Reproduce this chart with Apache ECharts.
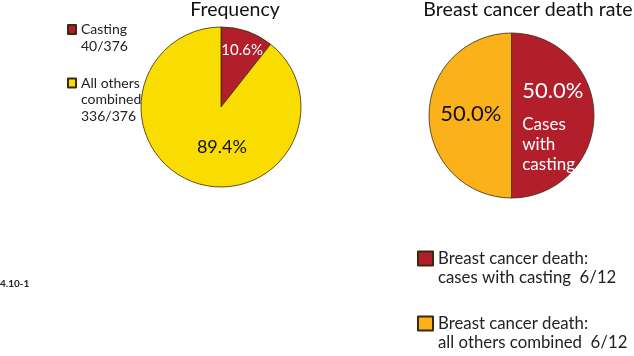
<!DOCTYPE html>
<html><head><meta charset="utf-8">
<script src="https://cdn.jsdelivr.net/npm/echarts@6/dist/echarts.min.js"></script>
<style>html,body{margin:0;padding:0;background:#fff}#c{width:634px;height:356px}</style>
</head><body><div id="c"></div>
<script>
const FONT = 'Lato';
// Frequency pie
const freqNames = ['Casting', 'All others combined'];
const freqCounts = [40, 336];
const freqTotal = 376;
const freqColors = ['#b21f2b', '#f9dc00'];
// Breast cancer death rate pie
const deathNames = ['Breast cancer death: cases with casting', 'Breast cancer death: all others combined'];
const deathCounts = [6, 6];
const deathTotal = 12;
const deathColors = ['#b21f2b', '#fbb119'];
const titles = ['Frequency', 'Breast cancer death rate'];
const figLabel = '4.10-1';

const pct = v => (v * 100).toFixed(1) + '%';

const chart = echarts.init(document.getElementById('c'), null, {renderer: 'canvas'});
const legendBase = {orient: 'vertical', padding: 0, icon: 'rect', selectedMode: false};
const smallRich = {t: {fontFamily: FONT, fontSize: 14, lineHeight: 16.5, color: '#222'}};
const bigRich = {t: {fontFamily: FONT, fontSize: 16.8, lineHeight: 19.5, color: '#222'}};
const rt = lines => lines.map(l => '{t|' + l + '}').join('\n');

chart.setOption({
  animation: false,
  textStyle: {fontFamily: FONT},
  title: [
    {text: titles[0], left: 235, top: 0, padding: 0, textAlign: 'center',
     textStyle: {fontFamily: FONT, fontSize: 19.5, fontWeight: 'normal', color: '#111'}},
    {text: titles[1], left: 528, top: 0, padding: 0, textAlign: 'center',
     textStyle: {fontFamily: FONT, fontSize: 19.6, fontWeight: 'normal', color: '#111'}},
    {text: figLabel, left: 0, top: 279, padding: 0,
     textStyle: {fontFamily: FONT, fontSize: 10, fontWeight: 'bold', color: '#222'}}
  ],
  legend: [
    Object.assign({}, legendBase, {
      data: [freqNames[0]], left: 67, top: 22.5, itemWidth: 8, itemHeight: 9,
      formatter: n => rt([n, freqCounts[0] + '/' + freqTotal]),
      textStyle: {rich: smallRich, padding: [16.5, 0, 0, 0]}
    }),
    Object.assign({}, legendBase, {
      data: [freqNames[1]], left: 67, top: 76, itemWidth: 8, itemHeight: 9,
      formatter: n => rt(['All others', 'combined', freqCounts[1] + '/' + freqTotal]),
      textStyle: {rich: smallRich, padding: [33, 0, 0, 0]}
    }),
    Object.assign({}, legendBase, {
      data: [deathNames[0]], left: 417, top: 250, itemWidth: 15, itemHeight: 14,
      formatter: n => rt(['Breast cancer death:', 'cases with casting  ' + deathCounts[0] + '/' + deathTotal]),
      textStyle: {rich: bigRich, padding: [19.5, 0, 0, 0]}
    }),
    Object.assign({}, legendBase, {
      data: [deathNames[1]], left: 417, top: 315, itemWidth: 15, itemHeight: 14,
      formatter: n => rt(['Breast cancer death:', 'all others combined  ' + deathCounts[1] + '/' + deathTotal]),
      textStyle: {rich: bigRich, padding: [19.5, 0, 0, 0]}
    })
  ],
  series: [
    {
      type: 'pie', center: [221, 107], radius: 80, startAngle: 90, clockwise: true,
      silent: true,
      itemStyle: {borderColor: '#3a2a10', borderWidth: 0.8},
      label: {position: 'inside', fontFamily: FONT},
      labelLine: {show: false},
      labelLayout: p => p.dataIndex === 0 ? {dx: 7, dy: -16} : {dx: 15, dy: 0},
      data: freqNames.map((n, i) => ({
        name: n, value: freqCounts[i],
        itemStyle: {color: freqColors[i]},
        label: i === 0
          ? {formatter: pct(freqCounts[0] / freqTotal), color: '#fff', fontSize: 15}
          : {formatter: pct(freqCounts[1] / freqTotal), color: '#111', fontSize: 18}
      }))
    },
    {
      type: 'pie', center: [511.5, 115.5], radius: 82.5, startAngle: 90, clockwise: true,
      silent: true,
      itemStyle: {borderColor: '#3a2a10', borderWidth: 0.8},
      label: {position: 'inside', fontFamily: FONT},
      labelLine: {show: false},
      labelLayout: p => p.dataIndex === 0 ? {dx: -33.5, dy: 5.5, align: 'left'} : {dx: 3.5, dy: -1.5},
      data: deathNames.map((n, i) => ({
        name: n, value: deathCounts[i],
        itemStyle: {color: deathColors[i]},
        label: i === 0
          ? {formatter: '{a|' + pct(deathCounts[0] / deathTotal) + '}\n{b|Cases}\n{b|with}\n{b|casting}',
             color: '#fff', align: 'left',
             rich: {a: {fontFamily: FONT, fontSize: 22, color: '#fff', lineHeight: 48, align: 'left'},
                    b: {fontFamily: FONT, fontSize: 17, color: '#fff', lineHeight: 20, align: 'left'}}}
          : {formatter: pct(deathCounts[1] / deathTotal), color: '#111', fontSize: 22}
      }))
    }
  ]
});
</script></body></html>
